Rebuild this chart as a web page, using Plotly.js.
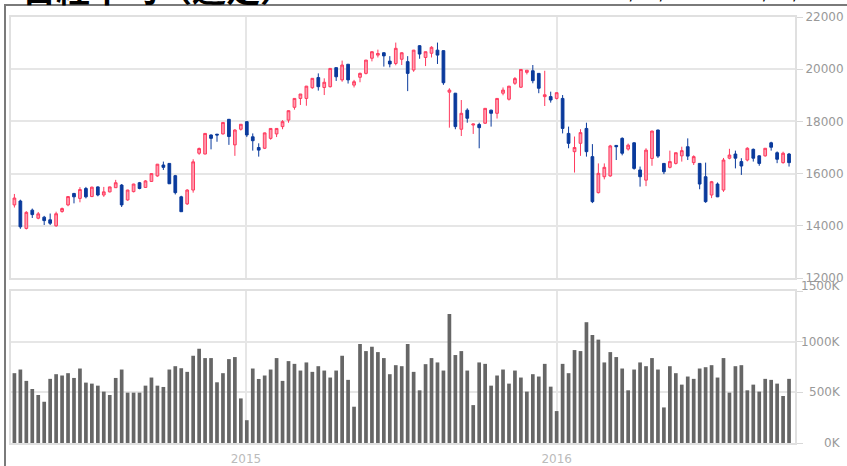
<!DOCTYPE html>
<html>
<head>
<meta charset="utf-8">
<script src="https://cdn.plot.ly/plotly-3.0.1.min.js"></script>
<style>html,body{margin:0;padding:0;background:#fff;}#chart{width:847px;height:466px;}</style>
</head>
<body>
<div id="chart"></div>
<script>
const weeks = [
"2014-04-04","2014-04-11","2014-04-18","2014-04-25","2014-05-02","2014-05-09","2014-05-16","2014-05-23","2014-05-30","2014-06-06",
"2014-06-13","2014-06-20","2014-06-27","2014-07-04","2014-07-11","2014-07-18","2014-07-25","2014-08-01","2014-08-08","2014-08-15",
"2014-08-22","2014-08-29","2014-09-05","2014-09-12","2014-09-19","2014-09-26","2014-10-03","2014-10-10","2014-10-17","2014-10-24",
"2014-10-31","2014-11-07","2014-11-14","2014-11-21","2014-11-28","2014-12-05","2014-12-12","2014-12-19","2014-12-26","2015-01-02",
"2015-01-09","2015-01-16","2015-01-23","2015-01-30","2015-02-06","2015-02-13","2015-02-20","2015-02-27","2015-03-06","2015-03-13",
"2015-03-20","2015-03-27","2015-04-03","2015-04-10","2015-04-17","2015-04-24","2015-05-01","2015-05-08","2015-05-15","2015-05-22",
"2015-05-29","2015-06-05","2015-06-12","2015-06-19","2015-06-26","2015-07-03","2015-07-10","2015-07-17","2015-07-24","2015-07-31",
"2015-08-07","2015-08-14","2015-08-21","2015-08-28","2015-09-04","2015-09-11","2015-09-18","2015-09-25","2015-10-02","2015-10-09",
"2015-10-16","2015-10-23","2015-10-30","2015-11-06","2015-11-13","2015-11-20","2015-11-27","2015-12-04","2015-12-11","2015-12-18",
"2015-12-25","2016-01-01","2016-01-08","2016-01-15","2016-01-22","2016-01-29","2016-02-05","2016-02-12","2016-02-19","2016-02-26",
"2016-03-04","2016-03-11","2016-03-18","2016-03-25","2016-04-01","2016-04-08","2016-04-15","2016-04-22","2016-04-29","2016-05-06",
"2016-05-13","2016-05-20","2016-05-27","2016-06-03","2016-06-10","2016-06-17","2016-06-24","2016-07-01","2016-07-08","2016-07-15",
"2016-07-22","2016-07-29","2016-08-05","2016-08-12","2016-08-19","2016-08-26","2016-09-02","2016-09-09","2016-09-16","2016-09-23",
"2016-09-30"];

const openP = [
14800,14950,13900,14600,14290,14330,14230,14000,14550,14800,
15240,15050,15430,15120,15490,15180,15300,15460,15560,14990,
15310,15650,15470,15700,15910,16330,16390,15920,15110,14840,
15370,16780,16750,17480,17510,17520,18080,17100,17700,17990,
17410,17000,16970,17350,17520,17800,18050,18540,18880,18880,
19290,19680,19300,19330,20060,19590,20190,19390,19690,19840,
20420,20540,20630,20310,20220,20380,20290,19970,20900,20450,
20610,20730,20710,19120,19080,17700,18430,17860,17880,17930,
18430,18310,19080,18850,19460,19310,19880,19940,19840,18950,
18950,18880,18880,17540,16840,17160,17730,16650,15270,15880,
15910,17080,17350,16940,17180,16140,15750,16580,17670,16390,
16240,16390,16680,17030,16420,16390,15880,15180,15600,15370,
16590,16750,16460,16520,16930,16680,16680,17180,16800,16420,
16750];
const highP = [
15220,15000,14560,14660,14530,14380,14470,14540,14700,15130,
15260,15480,15490,15500,15510,15490,15500,15760,15600,15380,
15610,15680,15750,16010,16370,16460,16400,15950,15150,15400,
16550,17000,17540,17500,17520,17960,18090,17700,17900,18000,
17540,17160,17570,17740,17740,18050,18420,18880,19050,19360,
19650,19840,19650,20040,20060,20330,20190,19590,19870,20350,
20680,20750,20650,20500,21020,20650,20500,20740,20920,20670,
20880,21020,20720,19270,19090,18820,18500,17910,17950,18500,
18450,18890,19300,19360,19700,19990,19960,20160,19850,19940,
19140,19110,19010,17800,17420,17700,17950,17130,16390,16390,
17100,17090,17390,17150,17200,16270,16970,17640,17680,16400,
16880,16800,17030,17350,16700,16400,16420,15720,15660,16600,
16950,16880,16590,17010,16960,16700,16970,17220,16850,16840,
16790];
const lowP = [
14700,13885,13860,14300,14250,14030,14030,13960,14500,14750,
14860,14900,15050,15100,15130,15110,15280,15450,14720,14960,
15280,15400,15450,15680,15880,16140,15600,15200,14530,14800,
15270,16720,16740,16930,17220,17500,17100,16680,17650,17400,
16880,16650,16940,17300,17400,17700,17950,18450,18630,18600,
19250,19180,19010,19300,19550,19520,19450,19300,19500,19800,
20300,20450,20100,20070,20150,20160,19160,19900,20400,20120,
20450,20200,19400,17760,17700,17440,17950,17520,16970,17900,
17800,18110,19000,18800,19400,19280,19800,19460,19080,18590,
18720,18840,17540,16970,16040,16680,16650,14870,15240,15780,
15880,16520,16700,16880,16150,15500,15520,16300,16600,15980,
16200,16350,16460,16520,16330,15400,14880,15060,15100,15300,
16550,16200,15950,16470,16460,16300,16650,16880,16400,16380,
16270];
const closeP = [
15063,13960,14516,14429,14457,14199,14097,14462,14660,15120,
15110,15390,15110,15480,15180,15300,15490,15650,14800,15370,
15600,15430,15720,16000,16360,16240,15610,15270,14540,15370,
16450,16960,17540,17350,17480,17960,17420,17670,17890,17480,
17260,16900,17560,17730,17730,17990,18410,18880,19050,19350,
19650,19330,19500,20030,19710,20160,19590,19520,19840,20350,
20670,20600,20510,20200,20800,20630,19840,20730,20580,20670,
20840,20540,19480,19200,17800,18310,18120,17900,17760,18500,
18310,18880,19200,19350,19640,19990,19960,19560,19270,19020,
18820,19100,17730,17160,17000,17570,16840,14925,16010,16240,
17060,17030,16780,17090,16200,15880,16900,17630,16670,16070,
16460,16800,16880,16670,16650,15600,14925,15690,15110,16520,
16710,16590,16290,16970,16590,16390,16970,17010,16550,16780,
16420];
// weekly volume, thousands
const volumeK = [
689,725,613,533,474,407,633,679,666,689,
642,735,596,586,566,507,474,642,725,497,
497,497,566,646,566,553,725,758,738,702,
861,930,838,838,599,689,828,848,440,225,
735,632,666,725,838,613,808,781,715,795,
702,758,715,646,715,861,623,358,977,907,
950,897,838,679,768,758,977,702,520,778,
838,795,715,1272,868,907,715,374,795,781,
566,666,725,586,715,646,507,679,656,781,
556,315,781,689,917,907,1192,1066,1020,795,
897,848,735,520,725,795,758,838,725,351,
758,689,576,656,633,735,748,768,646,838,
497,758,768,520,576,507,633,623,586,464,
633];
const priceTicks = [12000,14000,16000,18000,20000,22000];
const volumeTicks = [0,500,1000,1500];
const volumeTickText = ["0K","500K","1000K","1500K"];
const titleText = "日経平均（週足）";
const subText = "（2014/04/04 〜 2016/09/30）";

const W = 847, H = 466;
const mL = 11, mR = 52, mT = 17, mB = 23;
const pw = W - mL - mR, ph = H - mT - mB;
const px = x => (x - mL) / pw;
const py = y => (H - mB - y) / ph;

const gridC = '#e6e6e6', lineC = '#e0e0e0';

const candle = {
  type: 'candlestick', x: weeks, open: openP, high: highP, low: lowP, close: closeP,
  xaxis: 'x', yaxis: 'y',
  increasing: {line: {color: '#ff3a5e', width: 1}, fillcolor: '#ff9db0'},
  decreasing: {line: {color: '#0a3a9c', width: 1}, fillcolor: '#0a3a9c'},
  whiskerwidth: 0, hoverinfo: 'skip'
};
const vol = {
  type: 'bar', x: weeks, y: volumeK, xaxis: 'x2', yaxis: 'y2',
  marker: {color: '#666666', line: {width: 0}}, hoverinfo: 'skip'
};

const xCommon = {
  type: 'date', range: ['2014-03-31', '2016-10-07'],
  dtick: 'M12', tick0: '2015-01-01', tickformat: '%Y',
  showgrid: true, gridcolor: gridC, gridwidth: 2,
  showline: true, mirror: true, linecolor: lineC, linewidth: 2,
  zeroline: false, ticks: '', fixedrange: true
};

const annotations = volumeTicks.map((v, i) => ({
  xref: 'paper', x: px(843), xanchor: 'right',
  yref: 'y2', y: v, yanchor: 'middle', yshift: (v === 1500 ? 5 : 0),
  text: volumeTickText[i], showarrow: false,
  font: {family: 'DejaVu Sans', size: 12, color: '#999'}
}));
annotations.push({
  xref: 'paper', x: px(20), xanchor: 'left',
  yref: 'paper', y: py(14), yanchor: 'bottom',
  text: '<b>' + titleText + '</b>', showarrow: false,
  font: {family: 'Noto Sans CJK JP', size: 34, color: '#000'}
});
annotations.push({
  xref: 'paper', x: px(845), xanchor: 'right',
  yref: 'paper', y: py(6), yanchor: 'bottom',
  text: subText, showarrow: false,
  font: {family: 'Noto Sans CJK JP', size: 20, color: '#000'}
});

const layout = {
  width: W, height: H,
  margin: {l: mL, r: mR, t: mT, b: mB, pad: 0},
  paper_bgcolor: '#fff', plot_bgcolor: '#fff',
  showlegend: false, bargap: 0.38, boxgap: 0.35,
  font: {family: 'DejaVu Sans', size: 12, color: '#999'},
  xaxis: Object.assign({}, xCommon, {anchor: 'y', showticklabels: false, rangeslider: {visible: false}}),
  xaxis2: Object.assign({}, xCommon, {anchor: 'y2', matches: 'x', showticklabels: true,
    ticklabelstandoff: 4,
    tickfont: {family: 'DejaVu Sans', size: 12, color: '#bbb'}}),
  yaxis: {
    domain: [py(278), 1], side: 'right', range: [12000, 22000],
    tickmode: 'array', tickvals: priceTicks, tickformat: 'd',
    showgrid: true, gridcolor: gridC, gridwidth: 2,
    showline: true, mirror: true, linecolor: lineC, linewidth: 2,
    ticks: 'outside', ticklen: 6, tickcolor: '#d8d8d8', tickwidth: 1,
    zeroline: false, fixedrange: true,
    tickfont: {family: 'DejaVu Sans', size: 12, color: '#999'}
  },
  yaxis2: {
    domain: [0, py(291)], side: 'right', range: [0, 1500],
    tickmode: 'array', tickvals: volumeTicks, showticklabels: false,
    showgrid: true, gridcolor: gridC, gridwidth: 2,
    showline: true, mirror: true, linecolor: lineC, linewidth: 2,
    ticks: 'outside', ticklen: 6, tickcolor: '#d8d8d8', tickwidth: 1,
    zeroline: false, fixedrange: true
  },
  shapes: [
    {type: 'line', xref: 'paper', yref: 'paper', x0: px(4), x1: px(847), y0: py(5), y1: py(5),
     line: {color: '#7a7a7a', width: 2}},
    {type: 'line', xref: 'paper', yref: 'paper', x0: px(5), x1: px(5), y0: py(5), y1: py(466),
     line: {color: '#7a7a7a', width: 2}}
  ],
  annotations: annotations
};

Plotly.newPlot('chart', [candle, vol], layout, {displayModeBar: false, staticPlot: true});
</script>
</body>
</html>
